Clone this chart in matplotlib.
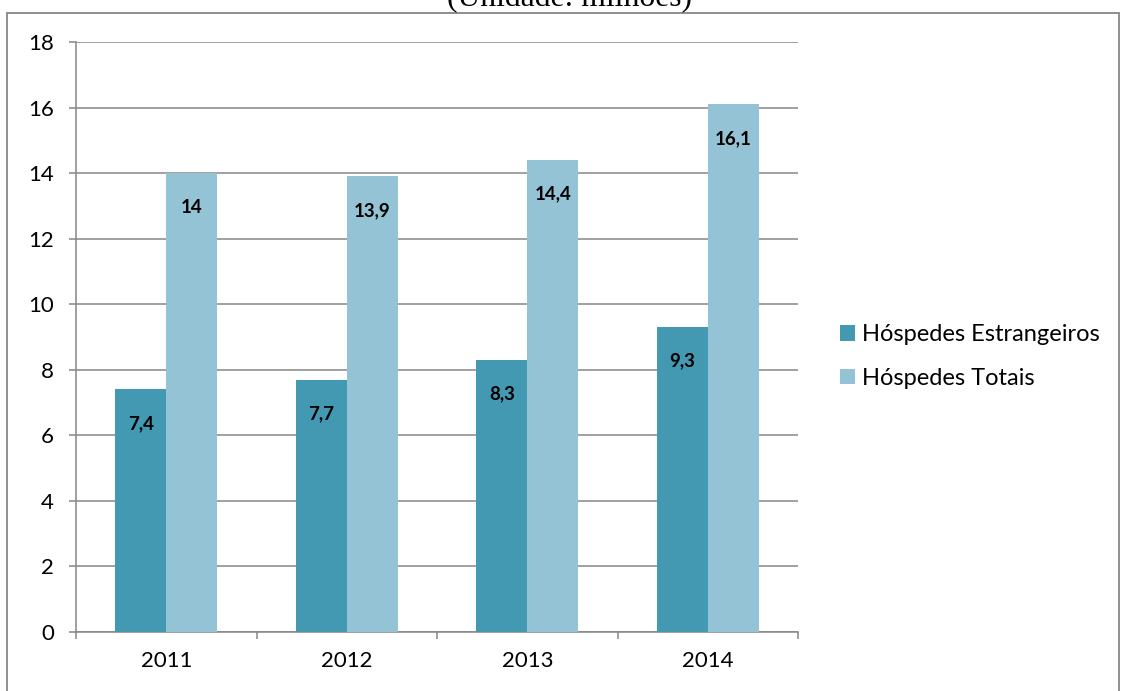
import matplotlib
matplotlib.use('Agg')
import matplotlib.pyplot as plt
from matplotlib.patches import Rectangle
import numpy as np

years = ['2011', '2012', '2013', '2014']
estrangeiros = [7.4, 7.7, 8.3, 9.3]
totais = [14.0, 13.9, 14.4, 16.1]
series_names = ['Hóspedes Estrangeiros', 'Hóspedes Totais']
yticks = [0, 2, 4, 6, 8, 10, 12, 14, 16, 18]

dark = '#4399b1'
light = '#93c3d5'
grid_col = '#868686'

plt.rcParams['font.family'] = ['Lato', 'DejaVu Sans']

fig = plt.figure(figsize=(11.25, 6.91), dpi=100)
ax = fig.add_axes([0.0676, 0.0854, 0.6418, 0.8538])

x = np.arange(len(years))
w = 0.283
b1 = ax.bar(x - w / 2, estrangeiros, w, color=dark, label=series_names[0], zorder=3)
b2 = ax.bar(x + w / 2, totais, w, color=light, label=series_names[1], zorder=3)

# value labels inside the bars, comma as decimal separator
for bars, vals in ((b1, estrangeiros), (b2, totais)):
    for rect, v in zip(bars, vals):
        txt = ('%g' % v).replace('.', ',')
        ax.annotate(txt, (rect.get_x() + rect.get_width() / 2, v),
                    xytext=(0, -24.5), textcoords='offset points',
                    ha='center', va='center', fontsize=13.5,
                    fontweight='bold', color='black', zorder=4)

ax.set_xlim(-0.5, 3.5)
ax.set_ylim(0, 18)
ax.set_yticks(yticks)
ax.yaxis.grid(True, color=grid_col, linewidth=1.1, zorder=0)
ax.set_axisbelow(True)

ax.set_xticks(x)
ax.set_xticklabels(years)
ax.set_xticks(np.arange(-0.5, 4, 1), minor=True)
ax.tick_params(axis='x', which='major', length=0, pad=14, labelsize=16)
ax.tick_params(axis='x', which='minor', length=5, width=1.1, color=grid_col,
               direction='out')
ax.tick_params(axis='y', length=5, width=1.1, color=grid_col, pad=11,
               labelsize=16)

for side in ('top', 'right'):
    ax.spines[side].set_visible(False)
for side in ('left', 'bottom'):
    ax.spines[side].set_color(grid_col)
    ax.spines[side].set_linewidth(1.1)

leg = fig.legend(loc='center left', bbox_to_anchor=(0.7467, 0.484),
                 frameon=False, fontsize=17, handlelength=0.64,
                 handleheight=0.64, handletextpad=0.3, labelspacing=0.95,
                 borderpad=0, borderaxespad=0)

# outer frame of the chart object
fig.patches.append(Rectangle((0.006, -0.1), 0.989, 1.081, transform=fig.transFigure,
                             fill=False, edgecolor=grid_col, linewidth=1.3))

fig.text(0.506, 0.9913, '(Unidade: milhões)', ha='center', va='baseline',
         fontsize=22.8, family='Liberation Serif')

fig.savefig('out.png', dpi=100)
